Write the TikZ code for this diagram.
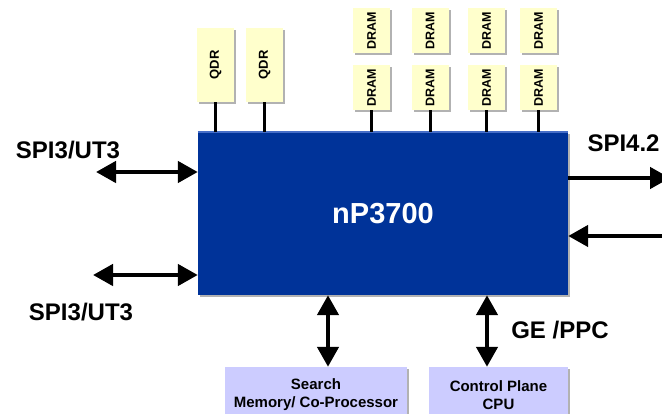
\documentclass[tikz,border=0pt]{standalone}
\usepackage{fontspec}
\setmainfont{Liberation Sans}
\usetikzlibrary{arrows.meta,shadows}

\definecolor{npblue}{RGB}{0,51,153}
\definecolor{npedge}{RGB}{70,110,200}
\definecolor{memyellow}{RGB}{255,255,204}
\definecolor{hostlilac}{RGB}{204,204,255}

\tikzset{
  shade/.style={drop shadow={shadow xshift=2pt,shadow yshift=-2pt,fill=gray!60,opacity=1}},
  chip/.style={fill=npblue, minimum width=370pt, minimum height=163pt, inner sep=0pt,
    text=white, font=\bfseries\fontsize{29}{29}\selectfont, shade},
  mem/.style={fill=memyellow, minimum width=37pt, minimum height=45pt, inner sep=0pt, shade},
  memtext/.style={rotate=90, font=\bfseries\fontsize{12.5}{12.5}\selectfont},
  host/.style={fill=hostlilac, minimum height=56pt, inner sep=0pt, align=center,
    font=\bfseries\fontsize{15}{18}\selectfont, shade},
  bus/.style={line width=3pt},
  link/.style={line width=4.5pt, {Triangle[length=20pt,width=21pt]}-{Triangle[length=20pt,width=21pt]}},
  onelink/.style={line width=4.5pt, -{Triangle[length=20pt,width=21pt]}},
  port/.style={font=\bfseries\fontsize{24}{24}\selectfont}
}

\begin{document}
\begin{tikzpicture}[x=1pt,y=-1pt]
  \useasboundingbox (0,0) rectangle (662,414);

  \node[chip] (np) at (383,213.5) {nP3700};
  \draw[npedge, line width=1.5pt] (np.north west) -- (np.north east);

  % QDR
  \node[mem, minimum height=74pt, label={[memtext, font=\bfseries\fontsize{13}{13}\selectfont]center:QDR}] (q1) at (215.5,65) {};
  \node[mem, minimum height=74pt, label={[memtext, font=\bfseries\fontsize{13}{13}\selectfont]center:QDR}] (q2) at (264.5,65) {};
  \foreach \q in {q1,q2}{
    \draw[bus] (\q.south) -- (\q.south |- np.north);
  }

  % DRAM
  \foreach \i/\x in {1/371.5,2/430,3/486.5,4/538.5}{
    \node[mem, label={[memtext]center:DRAM}] (dt\i) at (\x,30.5) {};
    \node[mem, label={[memtext]center:DRAM}] (db\i) at (\x,87.5) {};
    \draw[bus] (db\i.south) -- (db\i.south |- np.north);
  }

  % ports
  \coordinate (la) at (96,172);
  \coordinate (lb) at (93,275);
  \coordinate (ra) at (670,178);
  \coordinate (rb) at (670,236);
  \draw[link] (la) -- (la -| np.west);
  \draw[link] (lb) -- (lb -| np.west);
  \draw[onelink] (ra -| np.east) -- (ra);
  \draw[onelink] (rb) -- (rb -| np.east);

  \node[port] (spia) at (68,150) {SPI3/UT3};
  \node[port] (spib) at (81,312) {SPI3/UT3};
  \node[port, anchor=west] (spic) at (584,143) {SPI4.2};

  % below the chip
  \node[host, minimum width=182pt] (search) at (316,395) {Search\\Memory/ Co-Processor};
  \node[host, minimum width=139pt] (cpu) at (498.5,395) {Control Plane\\CPU};
  \coordinate (sa) at (328,0);
  \coordinate (ca) at (487,0);
  \draw[link] (sa |- np.south) -- (sa |- search.north);
  \draw[link] (ca |- np.south) -- (ca |- cpu.north);
  \node[port] (ge) at (560,330) {GE /PPC};
\end{tikzpicture}
\end{document}
